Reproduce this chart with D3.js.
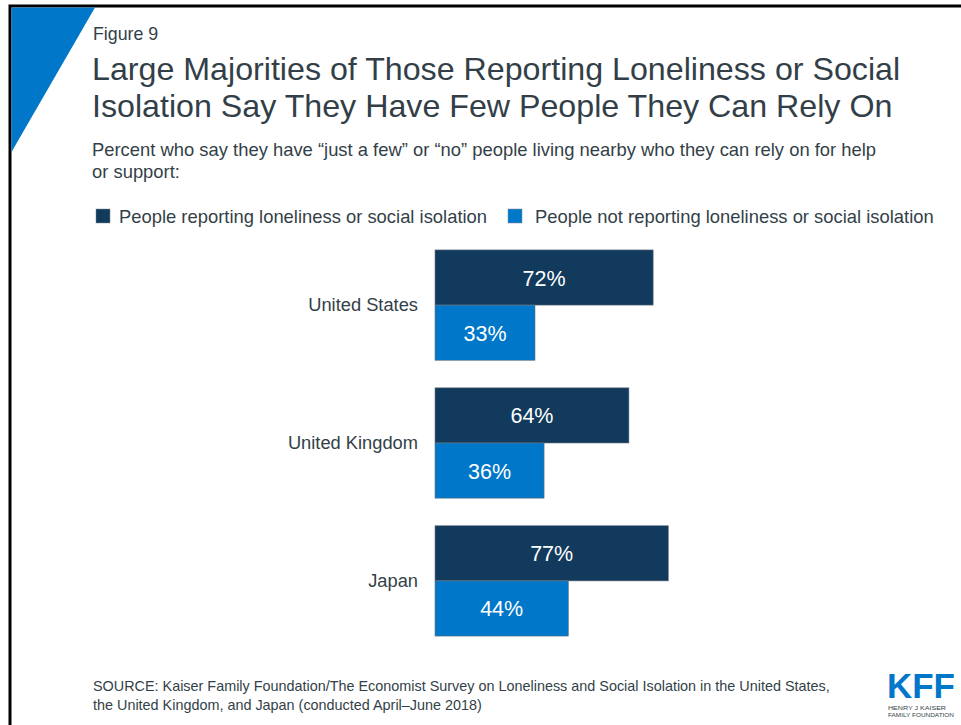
<!DOCTYPE html>
<html><head><meta charset="utf-8">
<script src="https://cdn.jsdelivr.net/npm/d3@7"></script>
<style>html,body{margin:0;padding:0;background:#fff;}svg{display:block;font-family:"Liberation Sans",Arial,sans-serif;}</style>
</head><body>
<div id="chart"></div>
<script>
const categories = ["United States", "United Kingdom", "Japan"];
const seriesNames = ["People reporting loneliness or social isolation", "People not reporting loneliness or social isolation"];
const lonely = [72, 64, 77];
const notLonely = [33, 36, 44];
const colors = ["#123a5d", "#0077c8"];

const W = 961, H = 725;
const svg = d3.select("#chart").append("svg").attr("width", W).attr("height", H);

// frame
svg.append("path").attr("d", "M10,725 L10,6 L961,6").attr("fill", "none").attr("stroke", "#000").attr("stroke-width", 3);
svg.append("path").attr("d", "M11.5,7.5 L95,7.5 L11.5,152 Z").attr("fill", "#0077c8");

// titles
svg.append("text").attr("x", 93).attr("y", 40).attr("font-size", 17.8).attr("fill", "#333f48").text("Figure 9");
const title = svg.append("text").attr("font-size", 32.2).attr("fill", "#333f48");
title.append("tspan").attr("x", 92).attr("y", 80).text("Large Majorities of Those Reporting Loneliness or Social");
title.append("tspan").attr("x", 92).attr("y", 117).text("Isolation Say They Have Few People They Can Rely On");
const sub = svg.append("text").attr("font-size", 18.4).attr("fill", "#333f48");
sub.append("tspan").attr("x", 92).attr("y", 156).text("Percent who say they have \u201cjust a few\u201d or \u201cno\u201d people living nearby who they can rely on for help");
sub.append("tspan").attr("x", 92).attr("y", 178).text("or support:");

// legend
const legendX = [96, 508];
seriesNames.forEach((n, i) => {
  const g = svg.append("g").attr("transform", `translate(${legendX[i]},209)`);
  g.append("rect").attr("width", 14).attr("height", 14).attr("fill", colors[i]).attr("stroke", "#7f8a94").attr("stroke-width", 0.5);
  g.append("text").attr("x", 23 + (i ? 4 : 0)).attr("y", 13.5).attr("font-size", 18.4).attr("fill", "#333f48").text(n);
});

// scales
const x = d3.scaleLinear().domain([0, 100]).range([435, 738]);
const y = d3.scaleBand().domain(categories).range([232, 654]).paddingInner(0.2).paddingOuter(0.13);
const sub2 = d3.scaleBand().domain([0, 1]).range([0, y.bandwidth()]);

const groups = svg.selectAll("g.cat").data(categories).join("g").attr("class", "cat")
  .attr("transform", d => `translate(0,${y(d)})`);

[lonely, notLonely].forEach((vals, si) => {
  groups.append("rect")
    .attr("x", x(0)).attr("y", sub2(si))
    .attr("width", (d, i) => x(vals[i]) - x(0))
    .attr("height", sub2.bandwidth())
    .attr("fill", colors[si]).attr("stroke", "#6b7580").attr("stroke-width", 0.6);
  groups.append("text")
    .attr("x", (d, i) => (x(0) + x(vals[i])) / 2)
    .attr("y", sub2(si) + sub2.bandwidth() / 2 + 8)
    .attr("text-anchor", "middle").attr("font-size", 21.5).attr("fill", "#fff")
    .text((d, i) => vals[i] + "%");
});
groups.append("text").attr("x", 418).attr("y", y.bandwidth() / 2 + 6)
  .attr("text-anchor", "end").attr("font-size", 18.3).attr("fill", "#333f48").text(d => d);

// source
const src = svg.append("text").attr("font-size", 14.4).attr("fill", "#333f48");
src.append("tspan").attr("x", 93).attr("y", 691).text("SOURCE: Kaiser Family Foundation/The Economist Survey on Loneliness and Social Isolation in the United States,");
src.append("tspan").attr("x", 93).attr("y", 710).text("the United Kingdom, and Japan (conducted April\u2013June 2018)");

// logo
const logo = svg.append("g").attr("transform", "translate(887,0)");
logo.append("text").attr("x", 0).attr("y", 698).attr("font-size", 35).attr("font-weight", "bold").attr("fill", "#0077c8")
  .attr("textLength", 68).attr("lengthAdjust", "spacingAndGlyphs").text("KFF");
logo.append("text").attr("x", 1).attr("y", 710).attr("font-size", 5).attr("fill", "#333f48").attr("textLength", 58).attr("lengthAdjust", "spacingAndGlyphs").text("HENRY J KAISER");
logo.append("text").attr("x", 1).attr("y", 717).attr("font-size", 5).attr("fill", "#333f48").attr("textLength", 66).attr("lengthAdjust", "spacingAndGlyphs").text("FAMILY FOUNDATION");
</script>
</body></html>
